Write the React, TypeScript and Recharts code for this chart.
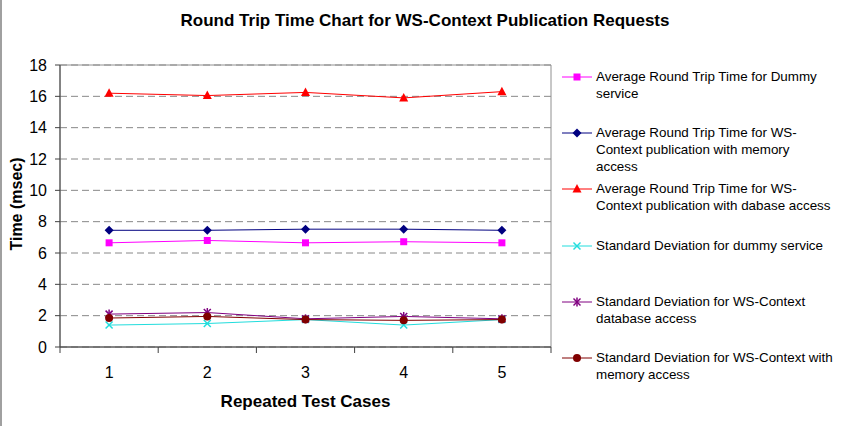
import React from 'react';
import { LineChart, Line, XAxis, YAxis, CartesianGrid, ReferenceArea, Label } from 'recharts';

// Repeated test cases on the x axis
const testCases = [1, 2, 3, 4, 5];

// Round trip times in milliseconds
const dummyAvg = [6.65, 6.8, 6.65, 6.72, 6.65];
const memoryAvg = [7.45, 7.45, 7.52, 7.52, 7.45];
const databaseAvg = [16.2, 16.05, 16.25, 15.9, 16.3];
const dummyStd = [1.4, 1.5, 1.75, 1.4, 1.75];
const databaseStd = [2.1, 2.2, 1.8, 1.95, 1.8];
const memoryStd = [1.85, 1.95, 1.75, 1.7, 1.75];

const yTicks = [0, 2, 4, 6, 8, 10, 12, 14, 16, 18];
// integer ticks carry the case labels, half ticks mark the category boundaries
const xTicks = [0.5, 1, 1.5, 2, 2.5, 3, 3.5, 4, 4.5, 5, 5.5];

const chartTitle = 'Round Trip Time Chart for WS-Context Publication Requests';
const xTitle = 'Repeated Test Cases';
const yTitle = 'Time (msec)';

type Shape = 'square' | 'diamond' | 'triangle' | 'x' | 'star' | 'circle';

const series: { key: string; values: number[]; color: string; shape: Shape; label: string[] }[] = [
  { key: 'dummyAvg', values: dummyAvg, color: '#FF00FF', shape: 'square', label: ['Average Round Trip Time for Dummy', 'service'] },
  { key: 'memoryAvg', values: memoryAvg, color: '#000080', shape: 'diamond', label: ['Average Round Trip Time for WS-', 'Context publication with memory', 'access'] },
  { key: 'databaseAvg', values: databaseAvg, color: '#FF0000', shape: 'triangle', label: ['Average Round Trip Time for WS-', 'Context publication with dabase access'] },
  { key: 'dummyStd', values: dummyStd, color: '#22DDDD', shape: 'x', label: ['Standard Deviation for dummy service'] },
  { key: 'databaseStd', values: databaseStd, color: '#800080', shape: 'star', label: ['Standard Deviation for WS-Context', 'database access'] },
  { key: 'memoryStd', values: memoryStd, color: '#800000', shape: 'circle', label: ['Standard Deviation for WS-Context with', 'memory access'] },
];

const data = testCases.map((c, i) => {
  const row: Record<string, number> = { testCase: c };
  series.forEach((s) => {
    row[s.key] = s.values[i];
  });
  return row;
});

const FONT = '"Liberation Sans", Arial, Helvetica, sans-serif';

function Marker({ cx, cy, shape, color }: { cx: number; cy: number; shape: Shape; color: string }) {
  switch (shape) {
    case 'square':
      return <rect x={cx - 3.5} y={cy - 3.5} width={7} height={7} fill={color} />;
    case 'diamond':
      return <polygon points={`${cx},${cy - 4.5} ${cx + 4.5},${cy} ${cx},${cy + 4.5} ${cx - 4.5},${cy}`} fill={color} />;
    case 'triangle':
      return <polygon points={`${cx},${cy - 5} ${cx + 4.5},${cy + 3.5} ${cx - 4.5},${cy + 3.5}`} fill={color} />;
    case 'x':
      return (
        <g stroke={color} strokeWidth={1.5}>
          <line x1={cx - 3.5} y1={cy - 3.5} x2={cx + 3.5} y2={cy + 3.5} />
          <line x1={cx - 3.5} y1={cy + 3.5} x2={cx + 3.5} y2={cy - 3.5} />
        </g>
      );
    case 'star':
      return (
        <g stroke={color} strokeWidth={1.5}>
          <line x1={cx - 3.5} y1={cy - 3.5} x2={cx + 3.5} y2={cy + 3.5} />
          <line x1={cx - 3.5} y1={cy + 3.5} x2={cx + 3.5} y2={cy - 3.5} />
          <line x1={cx} y1={cy - 4.5} x2={cx} y2={cy + 4.5} />
        </g>
      );
    default:
      return <circle cx={cx} cy={cy} r={4} fill={color} />;
  }
}

function XTick(props: any) {
  const { x, y, payload } = props;
  const v = payload.value as number;
  if (Number.isInteger(v)) {
    return (
      <text x={x} y={y + 31} textAnchor="middle" fontSize={16} fontFamily={FONT} fill="#000">
        {v}
      </text>
    );
  }
  return <line x1={x} y1={y} x2={x} y2={y + 6} stroke="#404040" strokeWidth={1} />;
}

function LegendIcon({ shape, color }: { shape: Shape; color: string }) {
  return (
    <svg width={30} height={10} style={{ display: 'block' }}>
      <line x1={0} y1={5} x2={30} y2={5} stroke={color} strokeWidth={1} />
      <Marker cx={15} cy={5} shape={shape} color={color} />
    </svg>
  );
}

export default function App() {
  return (
    <div
      style={{
        position: 'absolute',
        left: 0,
        top: 0,
        width: 850,
        height: 426,
        background: '#fff',
        borderLeft: '2px solid #a0a0a0',
        boxSizing: 'border-box',
        fontFamily: FONT,
      }}
    >
      <div
        style={{
          position: 'absolute',
          left: -2,
          top: 11,
          width: 850,
          textAlign: 'center',
          fontWeight: 'bold',
          fontSize: 17,
          lineHeight: '20px',
          color: '#000',
        }}
      >
        {chartTitle}
      </div>
      <div style={{ position: 'absolute', left: -2, top: 0 }}>
        <LineChart width={850} height={426} data={data} margin={{ top: 65, right: 299, left: 0, bottom: 0 }}>
          <CartesianGrid vertical={false} stroke="#888" strokeDasharray="7 4" />
          <ReferenceArea x1={0.5} x2={5.5} y1={0} y2={18} fill="none" stroke="#909090" strokeWidth={1} ifOverflow="extendDomain" />
          <XAxis
            dataKey="testCase"
            type="number"
            domain={[0.5, 5.5]}
            ticks={xTicks}
            interval={0}
            height={79}
            tickSize={0}
            tickMargin={0}
            tickLine={false}
            tick={<XTick />}
            stroke="#404040"
            allowDataOverflow
          >
            <Label
              content={({ viewBox }: any) => (
                <text
                  x={viewBox.x + viewBox.width / 2}
                  y={viewBox.y + 60}
                  textAnchor="middle"
                  fontSize={17}
                  fontWeight="bold"
                  fontFamily={FONT}
                  fill="#000"
                >
                  {xTitle}
                </text>
              )}
            />
          </XAxis>
          <YAxis
            type="number"
            domain={[0, 18]}
            ticks={yTicks}
            interval={0}
            width={60}
            tickSize={5}
            tickMargin={8}
            stroke="#404040"
            tick={{ fontSize: 16, fill: '#000', fontFamily: FONT }}
          >
            <Label
              content={({ viewBox }: any) => {
                const cx = 16;
                const cy = viewBox.y + viewBox.height / 2 - 2;
                return (
                  <text
                    x={cx}
                    y={cy}
                    transform={`rotate(-90 ${cx} ${cy})`}
                    textAnchor="middle"
                    dominantBaseline="central"
                    fontSize={16}
                    fontWeight="bold"
                    fontFamily={FONT}
                    fill="#000"
                  >
                    {yTitle}
                  </text>
                );
              }}
            />
          </YAxis>
          {series.map((s) => (
            <Line
              key={s.key}
              dataKey={s.key}
              type="linear"
              stroke={s.color}
              strokeWidth={1}
              isAnimationActive={false}
              activeDot={false}
              dot={(p: any) => (
                <Marker key={`${s.key}-${p.index}`} cx={p.cx} cy={p.cy} shape={s.shape} color={s.color} />
              )}
            />
          ))}
        </LineChart>
      </div>
      <div style={{ position: 'absolute', left: 560, top: 68 }}>
        {series.map((s) => (
          <div key={s.key} style={{ position: 'relative', height: 56.2 }}>
            <div style={{ position: 'absolute', left: 0, top: 4 }}>
              <LegendIcon shape={s.shape} color={s.color} />
            </div>
            <div
              style={{
                position: 'absolute',
                left: 34,
                top: 0,
                fontSize: 13.4,
                lineHeight: '17px',
                color: '#000',
                whiteSpace: 'nowrap',
              }}
            >
              {s.label.map((line, i) => (
                <div key={i}>{line}</div>
              ))}
            </div>
          </div>
        ))}
      </div>
    </div>
  );
}
